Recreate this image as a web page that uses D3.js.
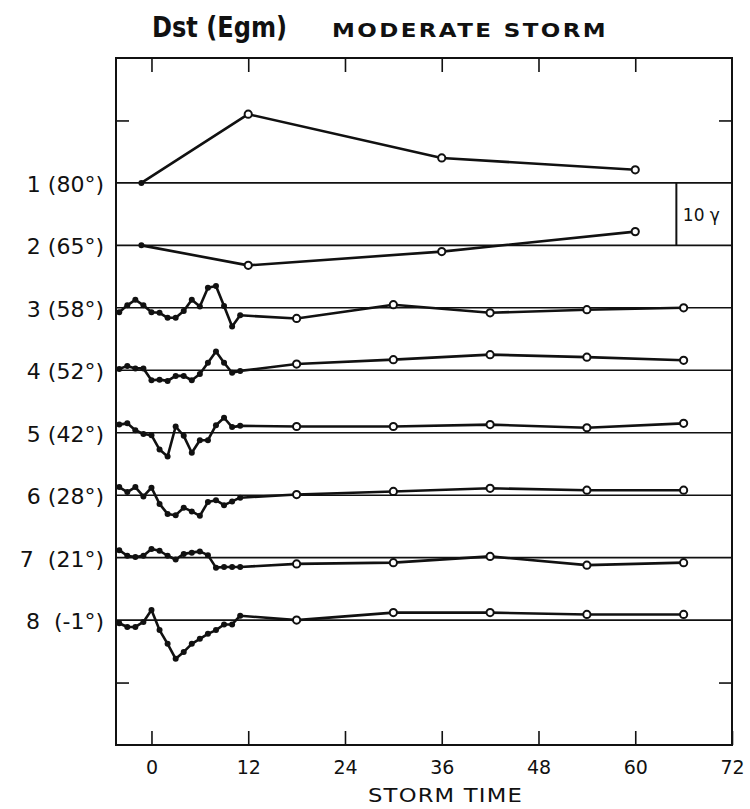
<!DOCTYPE html>
<html lang='en'>
	<head>
		<title>Dst (Egm) Moderate Storm</title>
		<script type='text/javascript' src='https://cdn.jsdelivr.net/npm/d3@7/dist/d3.min.js'></script>
		<style>
			body { margin: 0; background: #fff; }
			text { fill: #111; font-family: 'DejaVu Sans', sans-serif; }
		</style>
	</head>
	<body>
		<svg id='svg' width='750' height='809'></svg>
		<script type='text/javascript'>
			// station labels (row 1 at top)
			var stationLabels = ['1 (80°)', '2 (65°)', '3 (58°)', '4 (52°)', '5 (42°)', '6 (28°)', '7  (21°)', '8  (-1°)'];
			var xTickLabels = [0, 12, 24, 36, 48, 60, 72];

			// storm time (hours) of the points
			var polarTimes = [-1.25, 12, 36, 60];
			var earlyTimes = [-4, -3, -2, -1, 0, 1, 2, 3, 4, 5, 6, 7, 8, 9, 10, 11];
			var lateTimes = [18, 30, 42, 54, 66];

			// departures from each baseline, gamma
			var dst1 = [0, 11.0, 4.0, 2.1];
			var dst2 = [0, -3.2, -1.0, 2.2];
			var dst3Early = [-0.7, 0.4, 1.3, 0.4, -0.7, -0.8, -1.6, -1.6, -0.5, 1.3, 0.2, 3.2, 3.5, 0.3, -3.0, -1.2];
			var dst3Late = [-1.7, 0.5, -0.8, -0.3, 0.0];
			var dst4Early = [0.2, 0.7, 0.3, 0.3, -1.6, -1.5, -1.7, -0.9, -0.9, -1.6, -0.6, 1.2, 3.0, 1.2, -0.4, -0.1];
			var dst4Late = [1.0, 1.7, 2.5, 2.1, 1.6];
			var dst5Early = [1.3, 1.5, 0.4, -0.2, -0.4, -2.7, -3.8, 1.0, -0.5, -3.2, -1.2, -1.2, 1.2, 2.4, 0.9, 1.1];
			var dst5Late = [1.0, 1.0, 1.3, 0.8, 1.5];
			var dst6Early = [1.3, 0.5, 1.3, -0.2, 1.2, -1.4, -3.0, -3.2, -2.0, -2.6, -3.3, -1.1, -0.8, -1.6, -1.0, -0.4];
			var dst6Late = [0.1, 0.6, 1.1, 0.8, 0.8];
			var dst7Early = [1.2, 0.3, 0.1, 0.3, 1.4, 1.1, 0.3, -0.3, 0.6, 0.8, 1.0, 0.4, -1.6, -1.5, -1.5, -1.5];
			var dst7Late = [-1.0, -0.8, 0.2, -1.2, -0.8];
			var dst8Early = [-0.5, -1.1, -1.1, -0.3, 1.6, -1.6, -3.8, -6.2, -5.1, -3.8, -3.0, -2.2, -1.6, -0.7, -0.7, 0.7];
			var dst8Late = [0.0, 1.2, 1.2, 0.9, 0.9];

			var rows = [
				{dots: [dst1.slice(0, 1), polarTimes.slice(0, 1)], circles: [dst1.slice(1), polarTimes.slice(1)]},
				{dots: [dst2.slice(0, 1), polarTimes.slice(0, 1)], circles: [dst2.slice(1), polarTimes.slice(1)]},
				{dots: [dst3Early, earlyTimes], circles: [dst3Late, lateTimes]},
				{dots: [dst4Early, earlyTimes], circles: [dst4Late, lateTimes]},
				{dots: [dst5Early, earlyTimes], circles: [dst5Late, lateTimes]},
				{dots: [dst6Early, earlyTimes], circles: [dst6Late, lateTimes]},
				{dots: [dst7Early, earlyTimes], circles: [dst7Late, lateTimes]},
				{dots: [dst8Early, earlyTimes], circles: [dst8Late, lateTimes]}
			];

			var plotL = 116, plotR = 732, plotT = 58, plotB = 745;
			var rowStep = 10; // gamma between baselines

			var x = d3.scaleLinear().domain([-4.4, 72]).range([plotL, plotR]);
			var y = d3.scaleLinear().domain([-90, 20]).range([plotB, plotT]);
			var base = i => -i * rowStep;

			var svg = d3.select('#svg');

			// title
			svg.append('text').attr('x', 152).attr('y', 37)
				.style('font-family', "'DejaVu Sans Condensed', 'DejaVu Sans', sans-serif")
				.style('font-size', '29px').style('font-weight', 'bold')
				.attr('textLength', 135).attr('lengthAdjust', 'spacingAndGlyphs').text('Dst (Egm)');
			svg.append('text').attr('x', 332).attr('y', 37)
				.style('font-size', '19px').style('font-weight', 'bold').style('letter-spacing', '2px')
				.attr('textLength', 276).attr('lengthAdjust', 'spacingAndGlyphs').text('MODERATE STORM');

			// baselines
			svg.selectAll('.baseline').data(rows).enter().append('line').attr('class', 'baseline')
				.attr('x1', plotL).attr('x2', plotR)
				.attr('y1', (d, i) => y(base(i))).attr('y2', (d, i) => y(base(i)))
				.attr('stroke', '#111').attr('stroke-width', 1.6);

			// station labels
			svg.selectAll('.slabel').data(stationLabels).enter().append('text').attr('class', 'slabel')
				.attr('x', 104).attr('y', (d, i) => y(base(i)) + 9).attr('text-anchor', 'end')
				.style('font-size', '22px').style('white-space', 'pre')
				.text(d => d);

			// 10 gamma scale box
			svg.append('line').attr('x1', x(65.1)).attr('x2', x(65.1)).attr('y1', y(base(0))).attr('y2', y(base(1)))
				.attr('stroke', '#111').attr('stroke-width', 2);
			svg.append('text').attr('x', x(65.9)).attr('y', y(base(0) - 5) + 7)
				.style('font-size', '17px').text('10 γ');

			// axes with inward ticks
			var tickVals = [0, 12, 24, 36, 48, 60, 72];
			svg.append('g').attr('transform', 'translate(0,' + plotB + ')')
				.call(d3.axisBottom(x).tickValues(tickVals).tickSizeInner(-14).tickSizeOuter(0).tickPadding(16).tickFormat((d, i) => xTickLabels[i]))
				.call(g => g.select('.domain').remove())
				.call(g => g.selectAll('line').attr('stroke', '#111').attr('stroke-width', 1.6))
				.call(g => g.selectAll('text').style('font-size', '19px').style('font-family', "'DejaVu Sans', sans-serif").attr('fill', '#111'));
			svg.append('g').attr('transform', 'translate(0,' + plotT + ')')
				.call(d3.axisTop(x).tickValues(tickVals.slice(0, 6)).tickSizeInner(-14).tickSizeOuter(0).tickFormat(''))
				.call(g => g.select('.domain').remove())
				.call(g => g.selectAll('line').attr('stroke', '#111').attr('stroke-width', 1.6));
			svg.append('g').attr('transform', 'translate(' + plotL + ',0)')
				.call(d3.axisLeft(y).tickValues([10, -80]).tickSizeInner(-13).tickSizeOuter(0).tickFormat(''))
				.call(g => g.select('.domain').remove())
				.call(g => g.selectAll('line').attr('stroke', '#111').attr('stroke-width', 1.6));
			svg.append('g').attr('transform', 'translate(' + plotR + ',0)')
				.call(d3.axisRight(y).tickValues([10, -80]).tickSizeInner(-13).tickSizeOuter(0).tickFormat(''))
				.call(g => g.select('.domain').remove())
				.call(g => g.selectAll('line').attr('stroke', '#111').attr('stroke-width', 1.6));

			// frame
			svg.append('rect').attr('x', plotL).attr('y', plotT).attr('width', plotR - plotL).attr('height', plotB - plotT)
				.attr('fill', 'none').attr('stroke', '#111').attr('stroke-width', 2);

			svg.append('text').attr('x', 368).attr('y', 802)
				.style('font-size', '19px').style('letter-spacing', '1px')
				.attr('textLength', 155).attr('lengthAdjust', 'spacingAndGlyphs').text('STORM TIME');

			// data
			var line = d3.line().x(d => x(d.t)).y(d => y(d.v));
			rows.forEach(function(r, i) {
				var dots = r.dots[0].map((v, j) => ({t: r.dots[1][j], v: base(i) + v}));
				var circles = r.circles[0].map((v, j) => ({t: r.circles[1][j], v: base(i) + v}));
				var g = svg.append('g');
				g.append('path').datum(dots.concat(circles)).attr('d', line)
					.attr('fill', 'none').attr('stroke', '#111').attr('stroke-width', 2.6).attr('stroke-linejoin', 'round');
				g.selectAll('.dot').data(dots).enter().append('circle')
					.attr('cx', d => x(d.t)).attr('cy', d => y(d.v)).attr('r', 3).attr('fill', '#111');
				g.selectAll('.ring').data(circles).enter().append('circle')
					.attr('cx', d => x(d.t)).attr('cy', d => y(d.v)).attr('r', 3.6)
					.attr('fill', '#fff').attr('stroke', '#111').attr('stroke-width', 2);
			});
		</script>
	</body>
</html>
